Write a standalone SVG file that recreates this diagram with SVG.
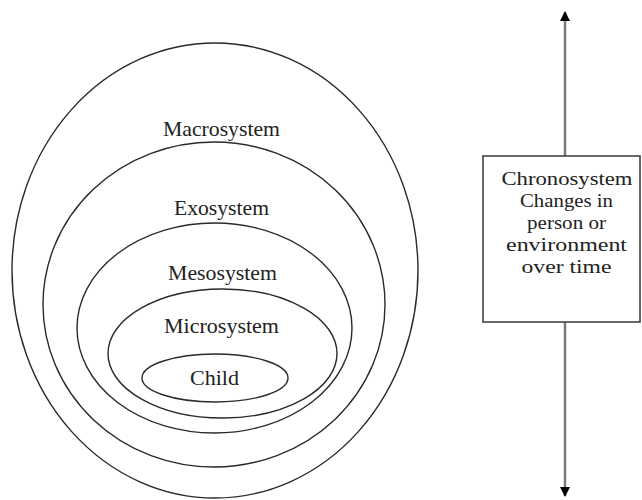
<svg xmlns="http://www.w3.org/2000/svg" width="642" height="500" viewBox="0 0 642 500">
<style>
.ring{fill:none;stroke:#2a2a2a;stroke-width:1.4}
.lbl{font-family:'Liberation Serif','Times New Roman',Times,'DejaVu Serif',serif;font-size:21px;fill:#222;text-anchor:middle}
.box{font-size:19px}
.axis{stroke:#7a7a7a;stroke-width:2.5;fill:none}
</style>
<defs>
<marker id="ah" viewBox="0 0 10 10" refX="9" refY="5" markerWidth="4" markerHeight="4.4" orient="auto" markerUnits="strokeWidth">
<path d="M0,0 L10,5 L0,10 Z" fill="#000"/>
</marker>
</defs>
<rect width="642" height="500" fill="#fff"/>
<g id="macrosystem">
<ellipse class="ring" cx="215" cy="270.5" rx="203" ry="227.5"/>
<text class="lbl" font-family="Liberation Serif, serif" x="221.5" y="136" textLength="117" lengthAdjust="spacingAndGlyphs">Macrosystem</text>
</g>
<g id="exosystem">
<ellipse class="ring" cx="214" cy="304.5" rx="171" ry="162.5"/>
<text class="lbl" font-family="Liberation Serif, serif" x="221.5" y="215" textLength="95" lengthAdjust="spacingAndGlyphs">Exosystem</text>
</g>
<g id="mesosystem">
<ellipse class="ring" cx="214.5" cy="328" rx="137.5" ry="105"/>
<text class="lbl" font-family="Liberation Serif, serif" x="222.5" y="280" textLength="109" lengthAdjust="spacingAndGlyphs">Mesosystem</text>
</g>
<g id="microsystem">
<ellipse class="ring" cx="222.5" cy="353.5" rx="114.5" ry="64.5"/>
<text class="lbl" font-family="Liberation Serif, serif" x="221.5" y="333" textLength="115" lengthAdjust="spacingAndGlyphs">Microsystem</text>
</g>
<g id="child">
<ellipse class="ring" cx="215" cy="378" rx="73" ry="24"/>
<text class="lbl" font-family="Liberation Serif, serif" x="214.5" y="385" textLength="49" lengthAdjust="spacingAndGlyphs">Child</text>
</g>
<g id="connectors">
<line class="axis" x1="565" y1="156" x2="565" y2="12" marker-end="url(#ah)"/>
<line class="axis" x1="565" y1="322" x2="565" y2="496" marker-end="url(#ah)"/>
</g>
<g id="chronosystem">
<rect x="483" y="156" width="157" height="166" fill="#fff" stroke="#444" stroke-width="1.6"/>
<text class="lbl box" font-family="Liberation Serif, serif" x="567" y="185" textLength="131" lengthAdjust="spacingAndGlyphs">Chronosystem</text>
<text class="lbl box" font-family="Liberation Serif, serif" x="566.5" y="207" textLength="93" lengthAdjust="spacingAndGlyphs">Changes in</text>
<text class="lbl box" font-family="Liberation Serif, serif" x="566.5" y="229" textLength="79" lengthAdjust="spacingAndGlyphs">person or</text>
<text class="lbl box" font-family="Liberation Serif, serif" x="566.5" y="251" textLength="121" lengthAdjust="spacingAndGlyphs">environment</text>
<text class="lbl box" font-family="Liberation Serif, serif" x="566.5" y="273" textLength="90" lengthAdjust="spacingAndGlyphs">over time</text>
</g>
</svg>
